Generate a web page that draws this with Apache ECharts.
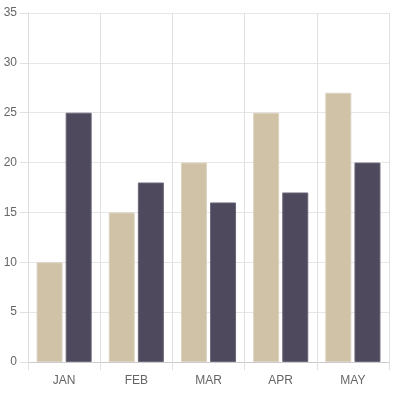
<!DOCTYPE html>
<html><head><meta charset="utf-8">
<script src="https://cdn.jsdelivr.net/npm/echarts@6/dist/echarts.min.js"></script>
<style>html,body{margin:0;padding:0;background:#fff}#c{width:407px;height:395px}</style>
</head><body><div id="c"></div>
<script>
const categories = ['JAN','FEB','MAR','APR','MAY'];
const seriesA = [10, 15, 20, 25, 27];
const seriesB = [25, 18, 16, 17, 20];
const yTicks = [0,5,10,15,20,25,30,35];

const chart = echarts.init(document.getElementById('c'), null, {renderer:'canvas'});
const font = {fontFamily:'Liberation Sans, Arial, sans-serif', fontSize:12, color:'#666'};
chart.setOption({
  animation:false,
  grid:{left:28, right:18, top:13, bottom:33, containLabel:false},
  xAxis:{type:'category', data:categories, boundaryGap:true,
    axisLine:{lineStyle:{color:'#ccc'}},
    axisTick:{show:true, length:8, lineStyle:{color:'#e0e0e0'}},
    splitLine:{show:true, lineStyle:{color:'#e0e0e0'}},
    axisLabel:Object.assign({margin:13}, font)},
  yAxis:{type:'value', min:yTicks[0], max:yTicks[yTicks.length-1], interval:5,
    axisLine:{show:true, lineStyle:{color:'#ddd'}},
    axisTick:{show:true, length:8, lineStyle:{color:'#e0e0e0'}},
    splitLine:{show:true, lineStyle:{color:'#e6e6e6'}},
    axisLabel:Object.assign({margin:11}, font)},
  series:[
    {type:'bar', data:seriesA, barWidth:26, barGap:'12%',
      itemStyle:{color:'#cfc2a7', borderColor:'#ddd3c1', borderWidth:1}},
    {type:'bar', data:seriesB, barWidth:26,
      itemStyle:{color:'#4e495c', borderColor:'#6b6679', borderWidth:1}}
  ]
});
</script></body></html>
